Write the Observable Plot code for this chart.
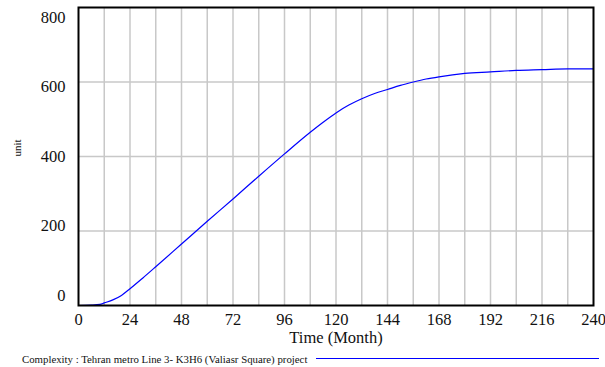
<!DOCTYPE html>
<html>
<head>
<meta charset="utf-8">
<script src="https://cdn.jsdelivr.net/npm/d3@7"></script>
<script src="https://cdn.jsdelivr.net/npm/@observablehq/plot@0.6"></script>
<style>
  html, body { margin: 0; padding: 0; background: white; }
  svg { display: block; }
  svg text { font-family: 'Liberation Serif', 'Times New Roman', serif !important; font-variant: normal !important; }
  #caption { display: flex; align-items: center; height: 17px; margin-left: 22px;
    font-family: 'Liberation Serif', 'Times New Roman', serif; font-size: 10.8px; color: #111; }
  #caption .key { flex: 1; border-top: 1px solid blue; margin-left: 9px; margin-right: 6px; }
</style>
</head>
<body>
<div id="chart"></div>
<script>
const months = [0, 6, 10, 12, 16, 20, 24, 30, 36, 48, 60, 72, 84, 96, 108, 114, 120, 126, 132, 138, 144, 150, 156, 162, 168, 180, 192, 204, 216, 228, 240];
const units  = [0, 1, 3, 7, 15, 27, 45, 74, 104, 165, 226, 286, 347, 407, 465, 492, 517, 538, 555, 569, 580, 591, 600, 608, 614, 623, 627, 631, 633, 635, 635];
const xTicks = [0, 24, 48, 72, 96, 120, 144, 168, 192, 216, 240];
const xGrid = [12, 24, 36, 48, 60, 72, 84, 96, 108, 120, 132, 144, 156, 168, 180, 192, 204, 216, 228];
const yTicks = [0, 200, 400, 600, 800];
const yGrid = [200, 400, 600];
const xLabel = "Time (Month)";
const yLabel = "unit";
const seriesName = "Complexity : Tehran metro Line 3- K3H6 (Valiasr Square) project";

const data = months.map((m, i) => ({month: m, value: units[i]}));
const serif = "'Liberation Serif', 'Times New Roman', serif";

const chart = Plot.plot({
  width: 605,
  height: 350,
  marginLeft: 78,
  marginRight: 12,
  marginTop: 7,
  marginBottom: 45,
  style: {fontFamily: serif, fontSize: "16px", background: "white", color: "#111"},
  x: {domain: [0, 240]},
  y: {domain: [0, 800]},
  marks: [
    Plot.gridX(xGrid, {stroke: "#c8c8c8", strokeOpacity: 1, strokeWidth: 1.5}),
    Plot.gridY(yGrid, {stroke: "#c8c8c8", strokeOpacity: 1, strokeWidth: 1.5}),
    Plot.axisX(xTicks, {tickSize: 0, tickPadding: 8, fontSize: 16.5, fontFamily: serif, fontVariant: "normal", label: null}),
    Plot.axisY(yTicks, {tickSize: 0, tickPadding: 13, fontSize: 16.5, fontFamily: serif, fontVariant: "normal", label: null}),
    Plot.text([xLabel], {frameAnchor: "bottom", dy: 37, fontSize: 16.5, fontFamily: serif}),
    Plot.text([yLabel], {frameAnchor: "left", dx: -61, rotate: -90, fontSize: 11, fontFamily: serif}),
    Plot.line(data, {x: "month", y: "value", stroke: "blue", strokeWidth: 1.2, curve: "monotone-x"}),
    Plot.frame({stroke: "black", strokeWidth: 2})
  ]
});

// y tick labels are spread slightly tighter than the grid, as in the original
d3.select(chart).selectAll('g[aria-label="y-axis tick label"] text').each(function() {
  const v = +this.textContent;
  const dy = 10 - 20 * (800 - v) / 800;
  const t = this.getAttribute("transform") || "";
  this.setAttribute("transform", t + ` translate(0,${dy})`);
});
d3.select(chart).selectAll("text").style("font-family", serif);

document.getElementById("chart").appendChild(chart);
const cap = document.createElement("div");
cap.id = "caption";
cap.innerHTML = `<span></span><span class="key"></span>`;
cap.firstChild.textContent = seriesName;
document.body.appendChild(cap);
</script>
</body>
</html>
